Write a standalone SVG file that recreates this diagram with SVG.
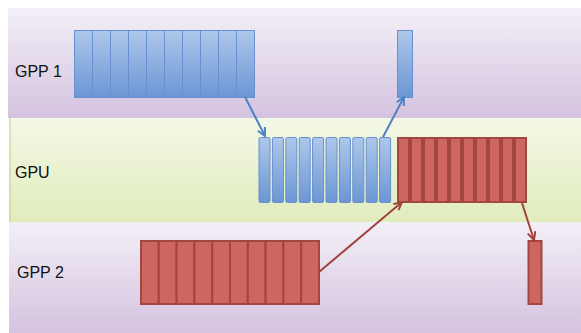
<svg xmlns="http://www.w3.org/2000/svg" width="581" height="333" viewBox="0 0 581 333">
  <style>
    .label { font-family: "Liberation Sans", Arial, sans-serif; font-size: 16px; fill: #111; }
    .blue { fill: url(#blueFill); stroke: #6690cf; stroke-width: 1; }
    .red { fill: #cd6560; stroke: #a2463f; stroke-width: 2; }
    .conn-blue { stroke: #4d82c6; stroke-width: 2; fill: none; marker-end: url(#headBlue); }
    .conn-red { stroke: #a2413c; stroke-width: 2; fill: none; marker-end: url(#headRed); }
  </style>
  <defs>
    <linearGradient id="lane" x1="0" y1="0" x2="0" y2="1">
      <stop offset="0" stop-color="#f3eff7"/>
      <stop offset="1" stop-color="#d4c3df"/>
    </linearGradient>
    <linearGradient id="laneGpu" x1="0" y1="0" x2="0" y2="1">
      <stop offset="0" stop-color="#f3f8e5"/>
      <stop offset="1" stop-color="#e1ecbd"/>
    </linearGradient>
    <linearGradient id="blueFill" x1="0" y1="0" x2="0" y2="1">
      <stop offset="0" stop-color="#adc7ea"/>
      <stop offset="1" stop-color="#6b96d4"/>
    </linearGradient>
    <filter id="soft" x="-10%" y="-10%" width="120%" height="120%">
      <feGaussianBlur stdDeviation="0.6"/>
    </filter>
    <marker id="headBlue" viewBox="0 0 10 10" refX="9" refY="5" markerWidth="5" markerHeight="5" orient="auto" markerUnits="strokeWidth">
      <path d="M1,1 L9,5 L1,9" fill="none" stroke="#4d82c6" stroke-width="2"/>
    </marker>
    <marker id="headRed" viewBox="0 0 10 10" refX="9" refY="5" markerWidth="5" markerHeight="5" orient="auto" markerUnits="strokeWidth">
      <path d="M1,1 L9,5 L1,9" fill="none" stroke="#a2413c" stroke-width="2"/>
    </marker>
  </defs>

  <rect width="581" height="333" fill="#ffffff"/>

  <!-- swim lanes -->
  <g id="lane-gpp1">
    <rect x="8" y="8" width="573" height="110" fill="url(#lane)"/>
    <text class="label" x="15" y="77">GPP 1</text>
  </g>
  <g id="lane-gpu">
    <rect x="9" y="118" width="572" height="104" fill="url(#laneGpu)"/>
    <line x1="10" y1="118" x2="10" y2="222" stroke="#b9d38a" stroke-width="1"/>
    <text class="label" x="15" y="178">GPU</text>
  </g>
  <g id="lane-gpp2">
    <rect x="9" y="222" width="572" height="111" fill="url(#lane)"/>
    <text class="label" x="17" y="278">GPP 2</text>
  </g>

  <!-- GPP 1 input buffer: ten blue slots -->
  <g id="gpp1-buffer">
    <rect class="blue" x="74.5" y="30.5" width="18" height="67"/>
    <rect class="blue" x="92.5" y="30.5" width="18" height="67"/>
    <rect class="blue" x="110.5" y="30.5" width="18" height="67"/>
    <rect class="blue" x="128.5" y="30.5" width="18" height="67"/>
    <rect class="blue" x="146.5" y="30.5" width="18" height="67"/>
    <rect class="blue" x="164.5" y="30.5" width="18" height="67"/>
    <rect class="blue" x="182.5" y="30.5" width="18" height="67"/>
    <rect class="blue" x="200.5" y="30.5" width="18" height="67"/>
    <rect class="blue" x="218.5" y="30.5" width="18" height="67"/>
    <rect class="blue" x="236.5" y="30.5" width="18" height="67"/>
  </g>

  <!-- GPP 1 result slot -->
  <g id="gpp1-result">
    <rect class="blue" x="397.5" y="30.5" width="15" height="67"/>
  </g>

  <!-- GPU blue batch -->
  <g id="gpu-blue" filter="url(#soft)">
    <rect class="blue" x="259" y="137.5" width="11" height="65" rx="1.5"/>
    <rect class="blue" x="272.4" y="137.5" width="11" height="65" rx="1.5"/>
    <rect class="blue" x="285.8" y="137.5" width="11" height="65" rx="1.5"/>
    <rect class="blue" x="299.2" y="137.5" width="11" height="65" rx="1.5"/>
    <rect class="blue" x="312.6" y="137.5" width="11" height="65" rx="1.5"/>
    <rect class="blue" x="326" y="137.5" width="11" height="65" rx="1.5"/>
    <rect class="blue" x="339.4" y="137.5" width="11" height="65" rx="1.5"/>
    <rect class="blue" x="352.8" y="137.5" width="11" height="65" rx="1.5"/>
    <rect class="blue" x="366.2" y="137.5" width="11" height="65" rx="1.5"/>
    <rect class="blue" x="379.6" y="137.5" width="11" height="65" rx="1.5"/>
  </g>

  <!-- GPU red batch -->
  <g id="gpu-red">
    <rect class="red" x="398" y="138" width="11" height="64"/>
    <rect class="red" x="411" y="138" width="11" height="64"/>
    <rect class="red" x="424" y="138" width="11" height="64"/>
    <rect class="red" x="437" y="138" width="11" height="64"/>
    <rect class="red" x="450" y="138" width="11" height="64"/>
    <rect class="red" x="463" y="138" width="11" height="64"/>
    <rect class="red" x="476" y="138" width="11" height="64"/>
    <rect class="red" x="489" y="138" width="11" height="64"/>
    <rect class="red" x="502" y="138" width="11" height="64"/>
    <rect class="red" x="515" y="138" width="11" height="64"/>
  </g>

  <!-- GPP 2 input buffer: ten red slots -->
  <g id="gpp2-buffer">
    <rect class="red" x="141" y="241" width="17.8" height="63"/>
    <rect class="red" x="158.8" y="241" width="17.8" height="63"/>
    <rect class="red" x="176.6" y="241" width="17.8" height="63"/>
    <rect class="red" x="194.4" y="241" width="17.8" height="63"/>
    <rect class="red" x="212.2" y="241" width="17.8" height="63"/>
    <rect class="red" x="230" y="241" width="17.8" height="63"/>
    <rect class="red" x="247.8" y="241" width="17.8" height="63"/>
    <rect class="red" x="265.6" y="241" width="17.8" height="63"/>
    <rect class="red" x="283.4" y="241" width="17.8" height="63"/>
    <rect class="red" x="301.2" y="241" width="17.8" height="63"/>
  </g>

  <!-- GPP 2 result slot -->
  <g id="gpp2-result">
    <rect class="red" x="528.5" y="241" width="13" height="63"/>
  </g>

  <!-- transfers -->
  <g id="connectors">
    <line class="conn-blue" x1="245" y1="97" x2="265" y2="136"/>
    <line class="conn-blue" x1="383" y1="137" x2="404" y2="97"/>
    <line class="conn-red" x1="319" y1="272" x2="402" y2="202"/>
    <line class="conn-red" x1="522" y1="203" x2="534" y2="240"/>
  </g>
</svg>
